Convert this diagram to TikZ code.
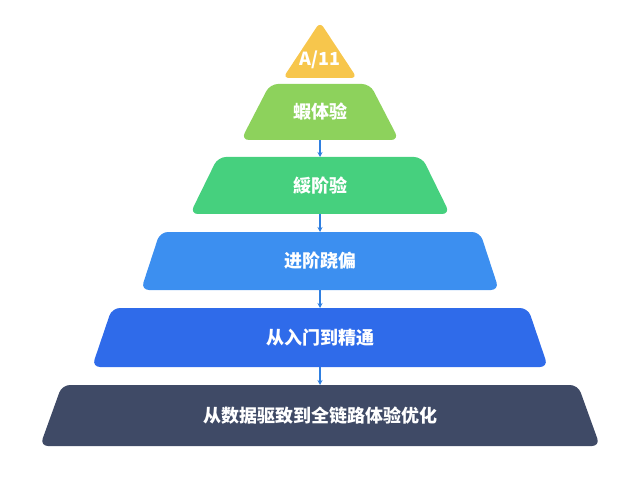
\documentclass[tikz,border=0pt]{standalone}
\usepackage{fontspec}
\setmainfont{Noto Sans CJK SC}
\usetikzlibrary{arrows.meta}
\definecolor{tierA}{HTML}{F7C64C}
\definecolor{tierB}{HTML}{8DD25C}
\definecolor{tierC}{HTML}{46D07E}
\definecolor{tierD}{HTML}{3C8FF0}
\definecolor{tierE}{HTML}{2F6BEA}
\definecolor{tierF}{HTML}{3F4A66}
\definecolor{link}{HTML}{2F7FE0}
\tikzset{
	tier/.style={rounded corners=4pt},
	lbl/.style={text=white, font=\bfseries\fontsize{9}{10}\selectfont},
	tierlink/.style={draw=link, line width=0.6pt, -{Stealth[length=2.5pt,width=2.5pt]}}
}
\begin{document}
\begin{tikzpicture}[x=0.5pt,y=-0.5pt]
		\useasboundingbox (0,0) rectangle (640,480);
		% tiers: top y / bottom y / top half width / bottom half width / colour / name / text
		\fill[tierA, rounded corners=3pt] (320,22) -- (357,78) -- (283,78) -- cycle;
		\node[lbl] (t0) at (320,60) {A/11};
		\foreach \ty/\by/\tw/\bw/\c/\n/\t in {
				84/140/50/79/tierB/t1/蝦体验,
				157/214/102/130/tierC/t2/綏阶验,
				232/290/160/179/tierD/t3/进阶跷偏,
				308/367/208/228/tierE/t4/从入门到精通,
				385/446/258/280/tierF/t5/从数据驱致到全链路体验优化
		}{
		\fill[\c, tier] (320-\tw,\ty) -- (320+\tw,\ty) -- (320+\bw,\by) -- (320-\bw,\by) -- cycle;
		\node[lbl] (\n) at (320,{(\ty+\by)/2}) {\t};
		}
		% links between tiers
		\foreach \a/\b in {140/157, 214/232, 290/308, 367/385}{
				\coordinate (s) at (320,\a);
				\coordinate (e) at (320,\b);
				\draw[tierlink] (s) -- (e);
		}
\end{tikzpicture}
\end{document}
